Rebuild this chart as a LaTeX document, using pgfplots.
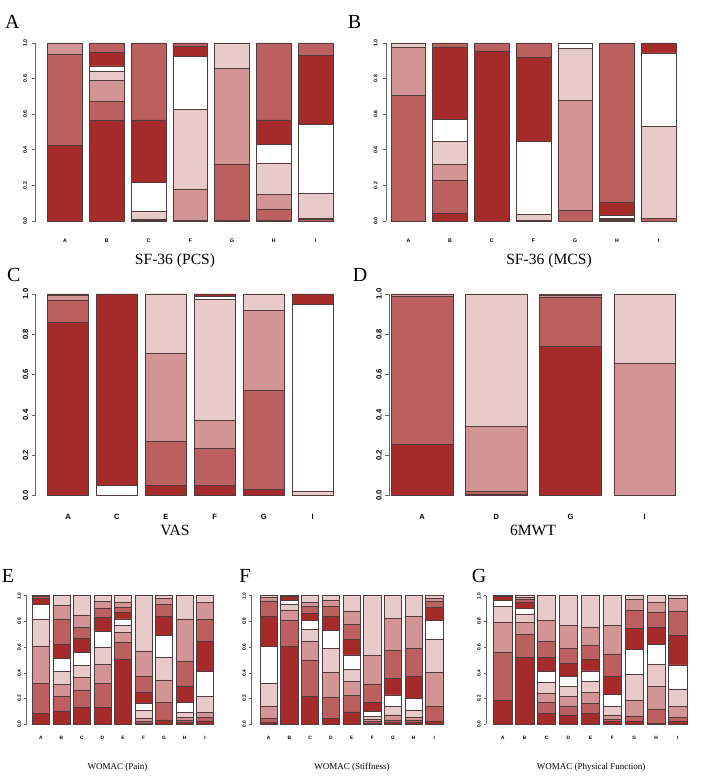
\documentclass[border=0pt]{standalone}
\usepackage{pgfplots}
\pgfplotsset{compat=1.18}
\usepackage{pgfplotstable}
\usepackage{fontspec}
\setmainfont{Liberation Serif}
\newfontfamily\tickfont{Liberation Sans}
\definecolor{cD}{RGB}{165,42,42}
\definecolor{cM}{RGB}{188,95,95}
\definecolor{cP}{RGB}{210,148,148}
\definecolor{cL}{RGB}{233,202,202}
\definecolor{cB}{RGB}{80,60,60}

\pgfplotsset{
  seg/.style={draw=cB, line width=0.3pt},
  s1/.style={seg, fill=cD}, s2/.style={seg, fill=cM}, s3/.style={seg, fill=cP},
  s4/.style={seg, fill=cL}, s5/.style={seg, fill=white}, s6/.style={seg, fill=cD},
  s7/.style={seg, fill=cM}, s8/.style={seg, fill=cP}, s9/.style={seg, fill=cL},
  rbar/.style={
    scale only axis, anchor=south west, ymin=0, ymax=1, clip=false,
    ybar stacked, bar width=1,
    axis x line*=bottom, axis y line*=left,
    x axis line style={draw=none},
    y axis line style={-, draw=black!60, line width=0.3pt},
    ytick={0,0.2,0.4,0.6,0.8,1},
    yticklabels={0.0,0.2,0.4,0.6,0.8,1.0},
    tick align=outside,
    major x tick style={draw=none},
    major y tick style={draw=black!60, line width=0.3pt},
    yticklabel style={rotate=90, anchor=south, inner sep=0pt},
    xticklabel style={anchor=north, inner sep=0pt},
  },
  smallfont/.style={tick label style={font=\tickfont\bfseries\fontsize{2.6}{3}\selectfont}, major tick length=1.6pt},
  bigfont/.style={tick label style={font=\tickfont\bfseries\fontsize{3.8}{4.5}\selectfont}, major tick length=1.8pt},
  tinyfont/.style={tick label style={font=\tickfont\bfseries\fontsize{2.4}{3}\selectfont}, major tick length=1.3pt},
}

% SF-36 (PCS)
\pgfplotstableread{
x c1 c2 c3 c4 c5 c6 c7
0.7 0.424 0.514 0.062 0 0 0 0
1.9 0.567 0.107 0.114 0.053 0.030 0.078 0.051
3.1 0.002 0.007 0.002 0.042 0.165 0.350 0.432
4.3 0.003 0.001 0.176 0.449 0.294 0.060 0.017
5.5 0.003 0.316 0.538 0.139 0.004 0 0
6.7 0.004 0.060 0.084 0.178 0.106 0.136 0.432
7.9 0 0.011 0.002 0.143 0.388 0.387 0.069
}\tabA
% SF-36 (MCS)
\pgfplotstableread{
x c1 c2 c3 c4 c5 c6 c7
0.7 0 0.705 0.272 0.023 0 0 0
1.9 0.045 0.184 0.088 0.130 0.123 0.407 0.023
3.1 0.955 0.045 0 0 0 0 0
4.3 0.003 0.001 0.001 0.031 0.412 0.471 0.081
5.5 0 0.060 0.619 0.291 0.030 0 0
6.7 0.004 0.005 0.002 0.002 0.019 0.071 0.897
7.9 0 0.013 0 0.520 0.411 0.052 0.004
}\tabB
% VAS
\pgfplotstableread{
x c1 c2 c3 c4 c5 c6
0.7 0.862 0.108 0.024 0.002 0.001 0.003
1.9 0.003 0 0 0 0.050 0.947
3.1 0.053 0.215 0.438 0.291 0.001 0.002
4.3 0.053 0.182 0.137 0.603 0.015 0.010
5.5 0.031 0.493 0.393 0.083 0 0
6.7 0 0 0 0.023 0.927 0.050
}\tabC
% 6MWT
\pgfplotstableread{
x c1 c2 c3 c4
0.7 0.256 0.734 0.010 0
1.9 0.007 0.016 0.322 0.655
3.1 0.739 0.244 0.012 0.005
4.3 0.002 0.001 0.653 0.344
}\tabD
% WOMAC (Pain)
\pgfplotstableread{
x c1 c2 c3 c4 c5 c6 c7 c8 c9
0.7 0.085 0.234 0.290 0.210 0.114 0.046 0.016 0.005 0
1.9 0.104 0.116 0.091 0.101 0.098 0.114 0.195 0.108 0.073
3.1 0.130 0.137 0.098 0.096 0.101 0.104 0.090 0.094 0.150
4.3 0.130 0.186 0.150 0.135 0.119 0.112 0.073 0.052 0.043
5.5 0.508 0.132 0.072 0.060 0.047 0.054 0.039 0.039 0.049
6.7 0.010 0.015 0.025 0.060 0.050 0.085 0.125 0.200 0.430
7.9 0.034 0.137 0.174 0.176 0.168 0.153 0.091 0.046 0.021
9.1 0.013 0.021 0.021 0.039 0.078 0.127 0.189 0.332 0.180
10.3 0.026 0.026 0.041 0.122 0.194 0.233 0.176 0.130 0.052
}\tabE
% WOMAC (Stiffness)
\pgfplotstableread{
x c1 c2 c3 c4 c5 c6 c7 c8 c9
0.7 0.013 0.034 0.096 0.176 0.285 0.238 0.117 0.028 0.013
1.9 0.604 0.207 0.078 0.047 0.026 0.031 0.007 0 0
3.1 0.220 0.280 0.148 0.093 0.067 0.054 0.052 0.036 0.050
4.3 0.047 0.163 0.192 0.189 0.142 0.104 0.078 0.052 0.033
5.5 0.096 0.130 0.106 0.096 0.111 0.122 0.117 0.104 0.118
6.7 0.010 0.013 0.016 0.021 0.039 0.073 0.142 0.222 0.464
7.9 0.013 0.021 0.039 0.070 0.085 0.130 0.215 0.251 0.176
9.1 0.013 0.016 0.026 0.057 0.091 0.174 0.215 0.250 0.158
10.3 0.021 0.117 0.267 0.256 0.150 0.098 0.044 0.026 0.021
}\tabF
% WOMAC (Physical Function)
\pgfplotstableread{
x c1 c2 c3 c4 c5 c6 c7 c8 c9
0.7 0.189 0.370 0.238 0.117 0.052 0.026 0.008 0 0
1.9 0.523 0.176 0.096 0.062 0.047 0.041 0.026 0.016 0.013
3.1 0.085 0.083 0.073 0.083 0.085 0.111 0.127 0.163 0.190
4.3 0.073 0.070 0.073 0.078 0.078 0.104 0.117 0.174 0.233
5.5 0.085 0.078 0.083 0.085 0.085 0.091 0.109 0.142 0.242
6.7 0.021 0.018 0.034 0.070 0.091 0.142 0.171 0.225 0.228
7.9 0.021 0.044 0.124 0.202 0.194 0.161 0.137 0.091 0.026
9.1 0.008 0.109 0.176 0.176 0.153 0.132 0.114 0.083 0.049
10.3 0.021 0.034 0.083 0.137 0.187 0.228 0.192 0.098 0.020
}\tabG

\begin{document}
\begin{tikzpicture}
\path[use as bounding box] (0,0) rectangle (354pt,390pt);

% Panel A
\begin{axis}[rbar, smallfont, at={(17.75pt,279.5pt)}, width=148.75pt, height=89pt,
  xmin=-0.151, xmax=8.4, xtick={0.7,1.9,3.1,4.3,5.5,6.7,7.9}, xticklabels={A,B,C,F,G,H,I},
  yticklabel shift=2.5pt, xticklabel shift=7pt]
\pgfplotsinvokeforeach{1,...,7}{\addplot[s#1] table[x=x,y=c#1]{\tabA};}
\end{axis}

% Panel B
\begin{axis}[rbar, smallfont, at={(193pt,279.5pt)}, width=145pt, height=89pt,
  xmin=0.056, xmax=8.4, xtick={0.7,1.9,3.1,4.3,5.5,6.7,7.9}, xticklabels={A,B,C,F,G,H,I},
  yticklabel shift=2.5pt, xticklabel shift=7pt]
\pgfplotsinvokeforeach{1,...,7}{\addplot[s#1] table[x=x,y=c#1]{\tabB};}
\end{axis}

% Panel C
\begin{axis}[rbar, bigfont, at={(17.75pt,142.15pt)}, width=148.75pt, height=100.85pt,
  xmin=-0.099, xmax=7.2, xtick={0.7,1.9,3.1,4.3,5.5,6.7}, xticklabels={A,C,E,F,G,I},
  yticklabel shift=1.6pt, xticklabel shift=7.3pt]
\pgfplotsinvokeforeach{1,...,6}{\addplot[s#1] table[x=x,y=c#1]{\tabC};}
\end{axis}

% Panel D
\begin{axis}[rbar, bigfont, at={(194.5pt,142.15pt)}, width=143.35pt, height=100.85pt,
  xmin=0.163, xmax=4.8, xtick={0.7,1.9,3.1,4.3}, xticklabels={A,D,G,I},
  yticklabel shift=1.6pt, xticklabel shift=7.3pt]
\pgfplotsinvokeforeach{1,...,4}{\addplot[s#1] table[x=x,y=c#1]{\tabD};}
\end{axis}

% Panel E
\begin{axis}[rbar, tinyfont, at={(13.35pt,27.85pt)}, width=93.5pt, height=64.3pt,
  xmin=-0.127, xmax=10.8, xtick={0.7,1.9,3.1,4.3,5.5,6.7,7.9,9.1,10.3}, xticklabels={A,B,C,D,E,F,G,H,I},
  yticklabel shift=1.4pt, xticklabel shift=4.4pt]
\pgfplotsinvokeforeach{1,...,9}{\addplot[s#1] table[x=x,y=c#1]{\tabE};}
\end{axis}

% Panel F
\begin{axis}[rbar, tinyfont, at={(125.85pt,27.85pt)}, width=95.65pt, height=64.3pt,
  xmin=-0.281, xmax=10.8, xtick={0.7,1.9,3.1,4.3,5.5,6.7,7.9,9.1,10.3}, xticklabels={A,B,C,D,E,F,G,H,I},
  yticklabel shift=1.4pt, xticklabel shift=4.4pt]
\pgfplotsinvokeforeach{1,...,9}{\addplot[s#1] table[x=x,y=c#1]{\tabF};}
\end{axis}

% Panel G
\begin{axis}[rbar, tinyfont, at={(243.2pt,27.85pt)}, width=100.3pt, height=64.3pt,
  xmin=-0.2, xmax=10.8, xtick={0.7,1.9,3.1,4.3,5.5,6.7,7.9,9.1,10.3}, xticklabels={A,B,C,D,E,F,G,H,I},
  yticklabel shift=1.4pt, xticklabel shift=4.4pt]
\pgfplotsinvokeforeach{1,...,9}{\addplot[s#1] table[x=x,y=c#1]{\tabG};}
\end{axis}

% titles
\node[font=\fontsize{7.8}{9}\selectfont] at (87.5pt,259.5pt) {SF-36 (PCS)};
\node[font=\fontsize{7.8}{9}\selectfont] at (274.5pt,259.5pt) {SF-36 (MCS)};
\node[font=\fontsize{7.8}{9}\selectfont] at (87.5pt,125pt) {VAS};
\node[font=\fontsize{7.8}{9}\selectfont] at (266.5pt,125pt) {6MWT};
\node[font=\fontsize{4.5}{5.5}\selectfont] at (58.75pt,6.5pt) {WOMAC (Pain)};
\node[font=\fontsize{4.5}{5.5}\selectfont] at (176pt,6.5pt) {WOMAC (Stiffness)};
\node[font=\fontsize{4.5}{5.5}\selectfont] at (295.5pt,6.5pt) {WOMAC (Physical Function)};
% panel letters
\node[font=\fontsize{10}{12}\selectfont] at (6.15pt,379.15pt) {A};
\node[font=\fontsize{10}{12}\selectfont] at (177.25pt,379pt) {B};
\node[font=\fontsize{10}{12}\selectfont] at (6.85pt,252.7pt) {C};
\node[font=\fontsize{10}{12}\selectfont] at (180pt,252.7pt) {D};
\node[font=\fontsize{10}{12}\selectfont] at (4pt,102pt) {E};
\node[font=\fontsize{10}{12}\selectfont] at (122.5pt,102pt) {F};
\node[font=\fontsize{10}{12}\selectfont] at (239.5pt,102pt) {G};
\end{tikzpicture}
\end{document}
